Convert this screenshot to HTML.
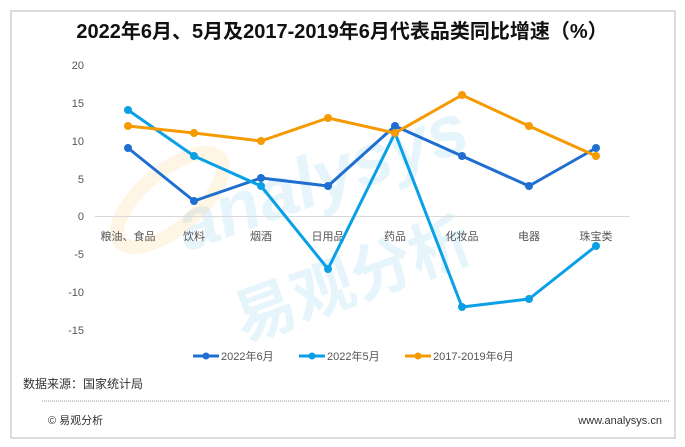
<!DOCTYPE html>
<html><head><meta charset="utf-8"><style>
html,body{margin:0;padding:0;background:#fff;width:685px;height:447px;overflow:hidden}
svg{display:block;font-family:"Liberation Sans","Noto Sans CJK SC",sans-serif}
</style></head><body>
<svg width="685" height="447" viewBox="0 0 685 447">
<rect x="11" y="11" width="664" height="427" fill="#fff" stroke="#dcdcdc" stroke-width="2"/>
<text x="342" y="38" text-anchor="middle" font-size="20" font-weight="bold" fill="#111">2022年6月、5月及2017-2019年6月代表品类同比增速（%）</text>
<g opacity="0.1" fill="#1a9be0" font-weight="bold">
<text x="330" y="200" font-size="72" font-style="italic" transform="rotate(-20 330 200)" text-anchor="middle">analysys</text>
<text x="360" y="300" font-size="62" transform="rotate(-20 360 300)" text-anchor="middle">易观分析</text>
</g>
<ellipse cx="170" cy="200" rx="65" ry="28" fill="none" stroke="#f59a00" stroke-width="14" opacity="0.1" transform="rotate(-40 170 200)"/>
<g font-size="11" fill="#555" text-anchor="end">
<text x="84" y="69">20</text><text x="84" y="107">15</text><text x="84" y="145">10</text>
<text x="84" y="183">5</text><text x="84" y="220">0</text><text x="84" y="258">-5</text>
<text x="84" y="296">-10</text><text x="84" y="334">-15</text>
</g>
<line x1="95" y1="216.5" x2="630" y2="216.5" stroke="#d9d9d9" stroke-width="1"/>
<g font-size="11" fill="#555" text-anchor="middle">
<text x="128" y="240">粮油、食品</text><text x="194" y="240">饮料</text><text x="261" y="240">烟酒</text>
<text x="328" y="240">日用品</text><text x="395" y="240">药品</text><text x="462" y="240">化妆品</text>
<text x="529" y="240">电器</text><text x="596" y="240">珠宝类</text>
</g>
<g fill="none" stroke-width="3" stroke-linejoin="round">
<polyline stroke="#1f6fd0" points="128,148 194,201 261,178 328,186 395,126 462,156 529,186 596,148"/>
<polyline stroke="#0aa0e6" points="128,110 194,156 261,186 328,269 395,133 462,307 529,299 596,246"/>
<polyline stroke="#f59a00" points="128,126 194,133 261,141 328,118 395,133 462,95 529,126 596,156"/>
</g>
<g fill="#1f6fd0"><circle cx="128" cy="148" r="4"/><circle cx="194" cy="201" r="4"/><circle cx="261" cy="178" r="4"/><circle cx="328" cy="186" r="4"/><circle cx="395" cy="126" r="4"/><circle cx="462" cy="156" r="4"/><circle cx="529" cy="186" r="4"/><circle cx="596" cy="148" r="4"/></g>
<g fill="#0aa0e6"><circle cx="128" cy="110" r="4"/><circle cx="194" cy="156" r="4"/><circle cx="261" cy="186" r="4"/><circle cx="328" cy="269" r="4"/><circle cx="395" cy="133" r="4"/><circle cx="462" cy="307" r="4"/><circle cx="529" cy="299" r="4"/><circle cx="596" cy="246" r="4"/></g>
<g fill="#f59a00"><circle cx="128" cy="126" r="4"/><circle cx="194" cy="133" r="4"/><circle cx="261" cy="141" r="4"/><circle cx="328" cy="118" r="4"/><circle cx="395" cy="133" r="4"/><circle cx="462" cy="95" r="4"/><circle cx="529" cy="126" r="4"/><circle cx="596" cy="156" r="4"/></g>
<g font-size="11" fill="#555">
<line x1="193" y1="356" x2="219" y2="356" stroke="#1f6fd0" stroke-width="3"/><circle cx="206" cy="356" r="3.5" fill="#1f6fd0"/>
<text x="221" y="360">2022年6月</text>
<line x1="299" y1="356" x2="325" y2="356" stroke="#0aa0e6" stroke-width="3"/><circle cx="312" cy="356" r="3.5" fill="#0aa0e6"/>
<text x="327" y="360">2022年5月</text>
<line x1="405" y1="356" x2="431" y2="356" stroke="#f59a00" stroke-width="3"/><circle cx="418" cy="356" r="3.5" fill="#f59a00"/>
<text x="433" y="360">2017-2019年6月</text>
</g>
<text x="23" y="388" font-size="12" fill="#333">数据来源：国家统计局</text>
<line x1="42" y1="401" x2="670" y2="401" stroke="#999" stroke-width="1" stroke-dasharray="1,1"/>
<text x="48" y="424" font-size="11" fill="#333">© 易观分析</text>
<text x="662" y="424" font-size="11" fill="#333" text-anchor="end">www.analysys.cn</text>
</svg>
</body></html>
